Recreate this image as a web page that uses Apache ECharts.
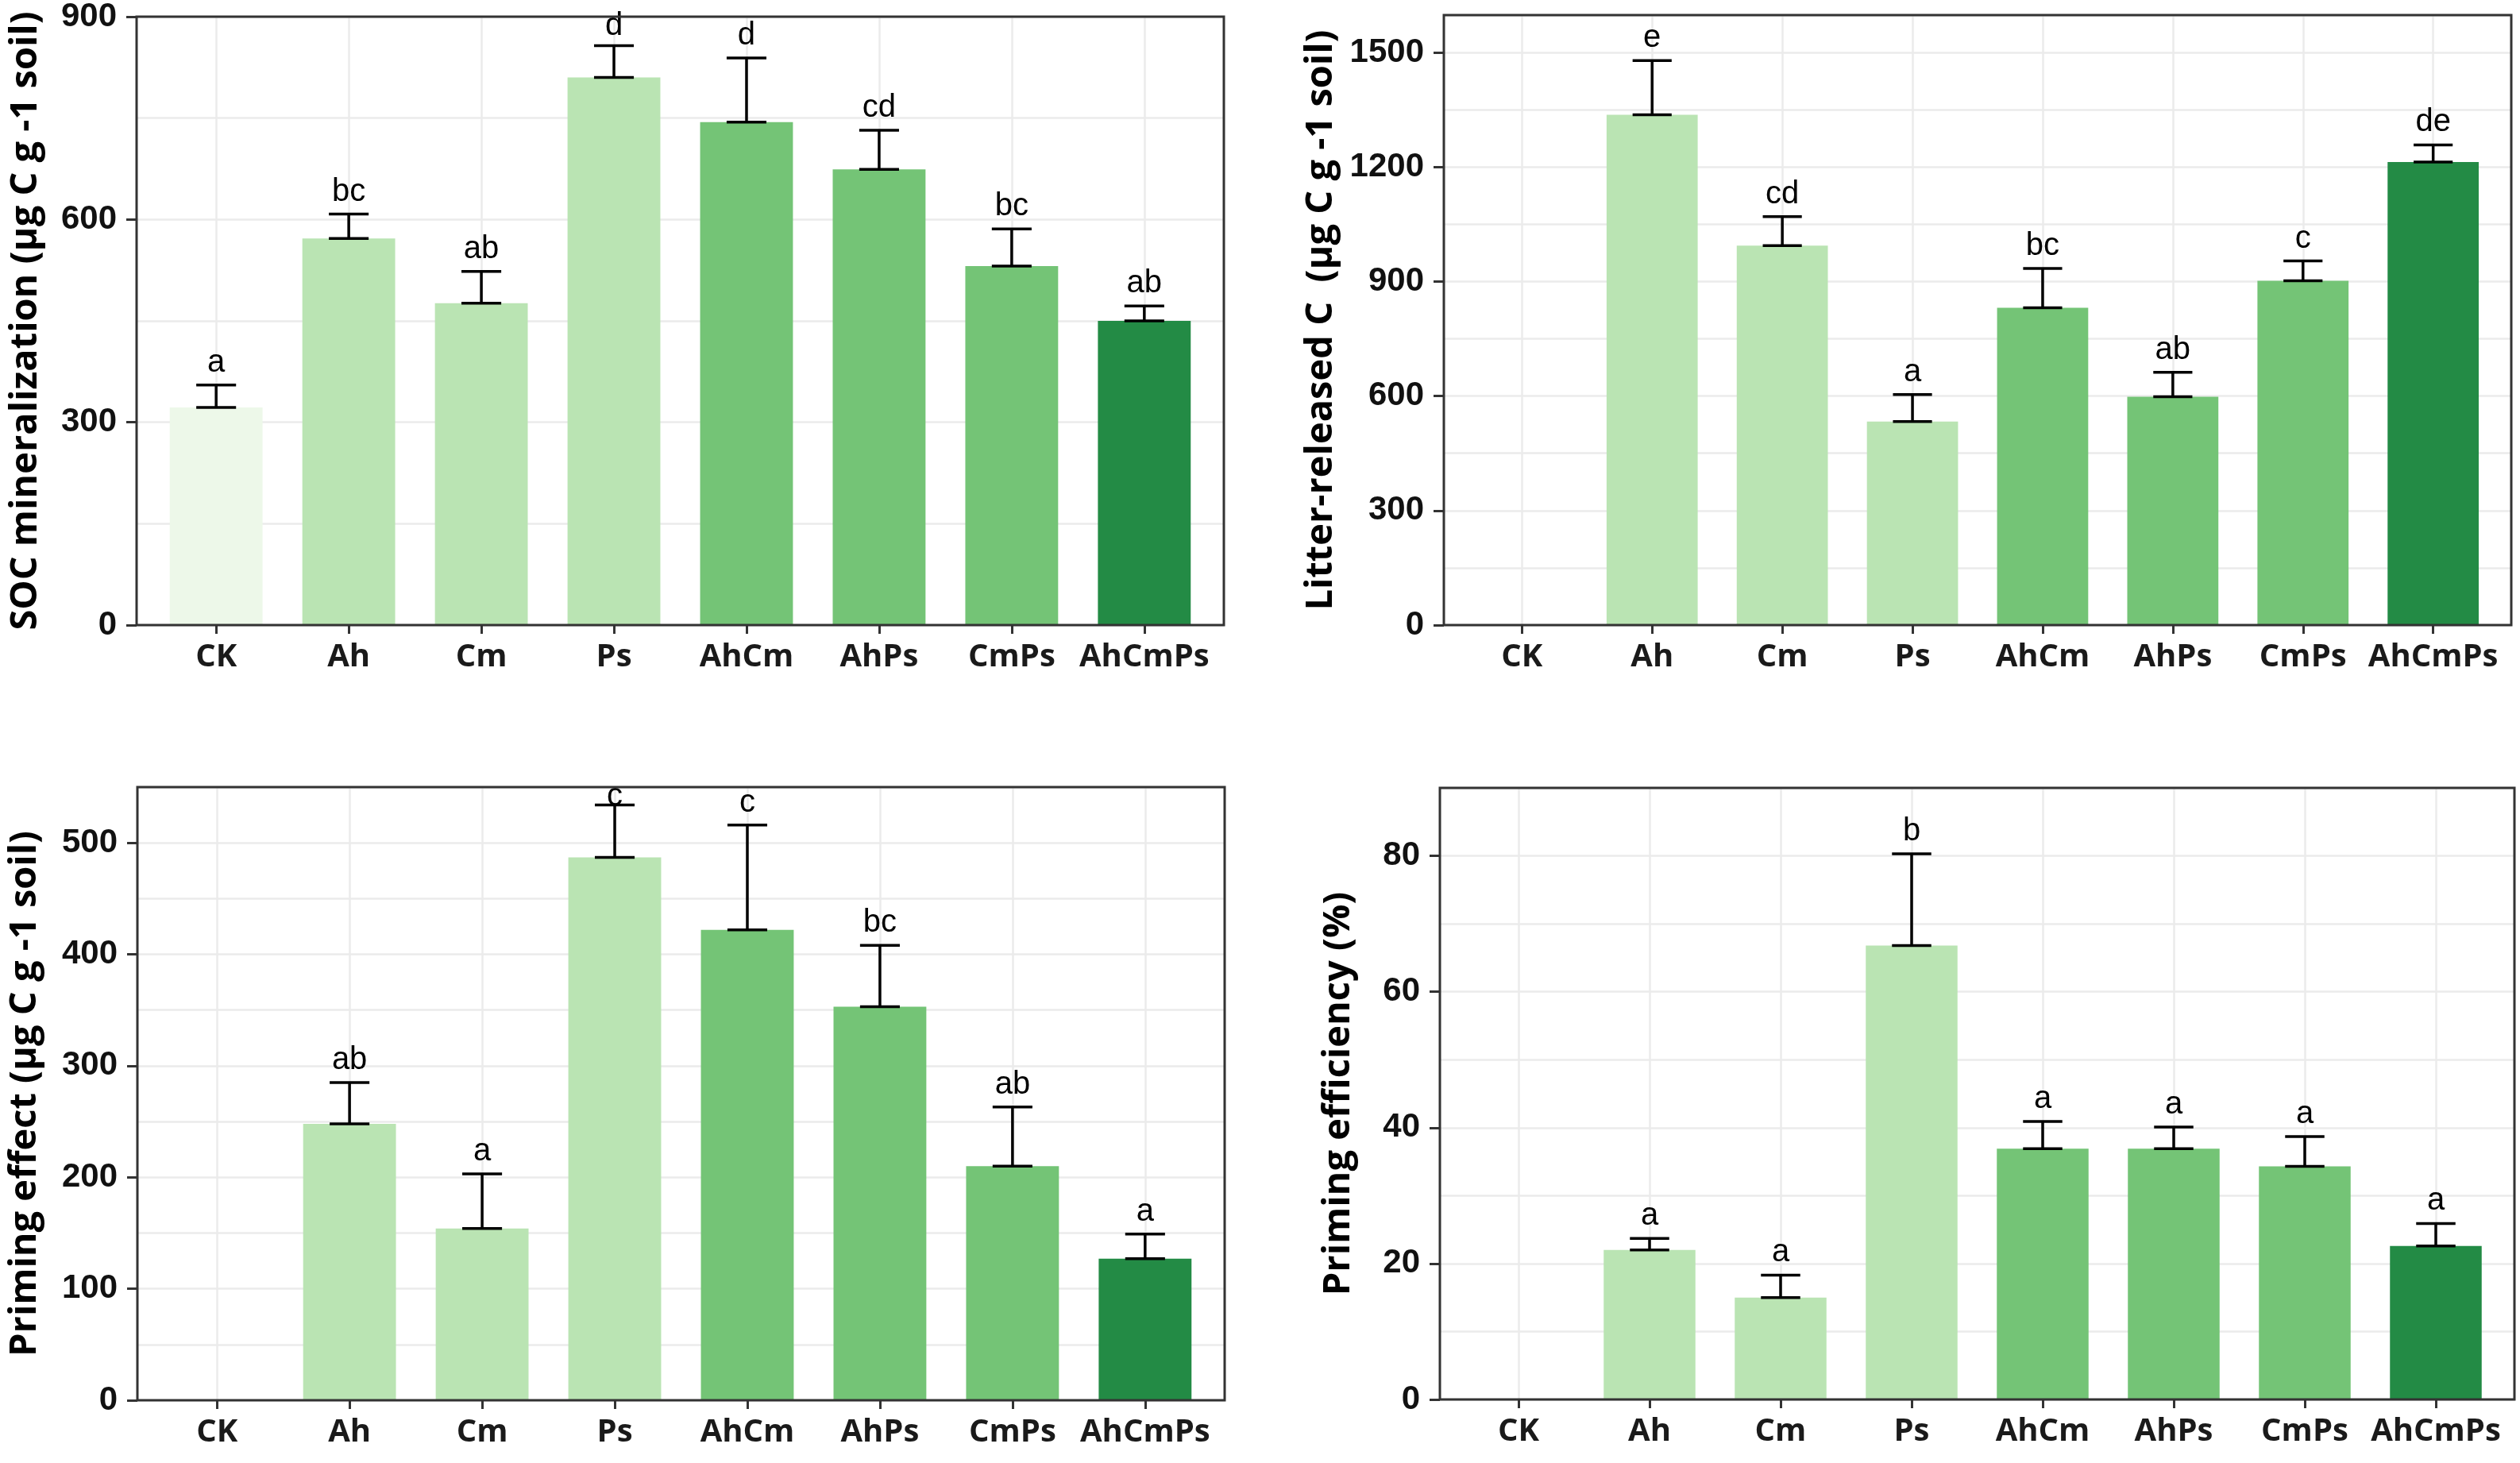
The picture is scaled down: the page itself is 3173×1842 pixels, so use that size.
<!DOCTYPE html>
<html>
<head>
<meta charset="utf-8">
<script src="https://cdn.jsdelivr.net/npm/echarts@6.0.0/dist/echarts.min.js"></script>
<style>
html, body { margin: 0; padding: 0; background: #fff; }
#chart { width: 3173px; height: 1842px; }
</style>
</head>
<body>
<div id="chart"></div>
<script>
// treatments on the x axis
var treatments = ['CK', 'Ah', 'Cm', 'Ps', 'AhCm', 'AhPs', 'CmPs', 'AhCmPs'];

// SOC mineralization
var socMean = [322, 572, 476, 810, 744, 674, 531, 450];
var socSe = [33, 36, 47, 47, 95, 58, 55, 22];
var socLetters = ['a', 'bc', 'ab', 'd', 'd', 'cd', 'bc', 'ab'];
var socTicks = [0, 300, 600, 900];

// Litter-released C
var litterMean = [0, 1337, 994, 533, 831, 598, 902, 1213];
var litterSe = [0, 142, 76, 71, 103, 64, 52, 45];
var litterLetters = ['', 'e', 'cd', 'a', 'bc', 'ab', 'c', 'de'];
var litterTicks = [0, 300, 600, 900, 1200, 1500];

// Priming effect
var primingMean = [0, 248, 154, 487, 422, 353, 210, 127];
var primingSe = [0, 37, 49, 47, 94, 55, 53, 22];
var primingLetters = ['', 'ab', 'a', 'c', 'c', 'bc', 'ab', 'a'];
var primingTicks = [0, 100, 200, 300, 400, 500];

// Priming efficiency
var effMean = [0, 22.0, 15.0, 66.8, 36.9, 36.9, 34.3, 22.6];
var effSe = [0, 1.7, 3.3, 13.5, 4.0, 3.2, 4.4, 3.3];
var effLetters = ['', 'a', 'a', 'b', 'a', 'a', 'a', 'a'];
var effTicks = [0, 20, 40, 60, 80];

// bar fill per treatment (ColorBrewer Greens)
var barColors = ['#edf8e9', '#bae4b3', '#bae4b3', '#bae4b3', '#74c476', '#74c476', '#74c476', '#238b45'];

var panels = [
	{ mean: socMean, se: socSe, letters: socLetters, ticks: socTicks, max: 900, minor: 150,
	  title: 'SOC mineralization (µg C g -1 soil)', nameGap: 116,
	  box: { left: 172, top: 18, width: 1369, height: 769 } },
	{ mean: litterMean, se: litterSe, letters: litterLetters, ticks: litterTicks, max: 1598, minor: 150,
	  title: 'Litter-released C  (µg C g -1 soil)', nameGap: 131,
	  box: { left: 1818, top: 19, width: 1344, height: 768 } },
	{ mean: primingMean, se: primingSe, letters: primingLetters, ticks: primingTicks, max: 550, minor: 50,
	  title: 'Priming effect (µg C g -1 soil)', nameGap: 118,
	  box: { left: 173, top: 991, width: 1369, height: 772 } },
	{ mean: effMean, se: effSe, letters: effLetters, ticks: effTicks, max: 90, minor: 10,
	  title: 'Priming efficiency (%)', nameGap: 104,
	  box: { left: 1813, top: 992, width: 1353, height: 770 } }
];

var catIndex = treatments.map(function (t, i) { return i; });
var gridColor = '#ebebeb';
var inkColor = '#333333';

var grids = [], xAxes = [], yAxes = [], series = [];

panels.forEach(function (p, k) {
	grids.push({
		left: p.box.left, top: p.box.top, width: p.box.width, height: p.box.height,
		show: true, backgroundColor: 'transparent',
		borderColor: inkColor, borderWidth: 3, z: 10
	});

	xAxes.push({
		type: 'value', gridIndex: k, min: -0.6, max: 7.6, position: 'bottom',
		axisLine: { show: false, onZero: false },
		axisTick: { show: true, length: 11, customValues: catIndex,
			lineStyle: { color: inkColor, width: 3 } },
		axisLabel: { customValues: catIndex, margin: 21,
			formatter: function (v) { return treatments[Math.round(v)]; },
			fontFamily: 'Open Sans', fontWeight: 'bold', fontSize: 40, color: '#1a1a1a' },
		splitLine: { show: true, lineStyle: { color: gridColor, width: 2.5 } }
	});

	// visible y axis: ticks, labels, title
	yAxes.push({
		type: 'value', gridIndex: k, min: 0, max: p.max, position: 'left',
		axisLine: { show: false, onZero: false },
		axisTick: { show: true, length: 13, customValues: p.ticks,
			lineStyle: { color: inkColor, width: 3 } },
		axisLabel: { customValues: p.ticks, margin: 25,
			formatter: function (v) { return String(v); },
			fontFamily: 'Liberation Sans', fontWeight: 'bold', fontSize: 42, color: '#111' },
		splitLine: { show: false },
		name: p.title, nameLocation: 'middle', nameRotate: 90, nameGap: p.nameGap,
		nameTextStyle: { fontFamily: 'Open Sans', fontWeight: 'bold', fontSize: 47, color: '#000' }
	});
	// helper y axis: only draws the horizontal grid lines (major + minor)
	yAxes.push({
		type: 'value', gridIndex: k, min: 0, max: p.max, interval: p.minor,
		position: 'left',
		axisLine: { show: false, onZero: false }, axisTick: { show: false }, axisLabel: { show: false },
		splitLine: { show: true, lineStyle: { color: gridColor, width: 2.5 } }
	});

	series.push({
		type: 'bar', xAxisIndex: k, yAxisIndex: 2 * k, barWidth: '70%', silent: true,
		data: p.mean.map(function (v, i) {
			return { value: [i, v], itemStyle: { color: barColors[i] } };
		})
	});

	// error bars (mean to mean + se) with significance letters
	series.push({
		type: 'custom', xAxisIndex: k, yAxisIndex: 2 * k, silent: true, z: 5,
		data: p.mean.map(function (v, i) { return [i, v, p.se[i]]; }),
		renderItem: function (params, api) {
			var x = api.value(0), m = api.value(1), s = api.value(2);
			if (!s) return null;
			var base = api.coord([x, m]);
			var top = api.coord([x, m + s]);
			var half = api.size([0.15, 0])[0];
			var cs = params.coordSys;
			var ty = Math.max(top[1] - 8, cs.y + 32);
			var ls = { stroke: '#000', lineWidth: 3.5 };
			return {
				type: 'group',
				children: [
					{ type: 'line', shape: { x1: base[0], y1: base[1], x2: top[0], y2: top[1] }, style: ls },
					{ type: 'line', shape: { x1: top[0] - half, y1: top[1], x2: top[0] + half, y2: top[1] }, style: ls },
					{ type: 'line', shape: { x1: base[0] - half, y1: base[1], x2: base[0] + half, y2: base[1] }, style: ls },
					{ type: 'text', x: top[0], y: ty,
					  style: { text: p.letters[params.dataIndex], align: 'center', verticalAlign: 'bottom',
						fontFamily: 'Liberation Sans', fontSize: 40, fill: '#000' } }
				]
			};
		}
	});
});

var myChart = echarts.init(document.getElementById('chart'));
myChart.setOption({
	backgroundColor: '#fff',
	animation: false,
	grid: grids,
	xAxis: xAxes,
	yAxis: yAxes,
	series: series
});
</script>
</body>
</html>
